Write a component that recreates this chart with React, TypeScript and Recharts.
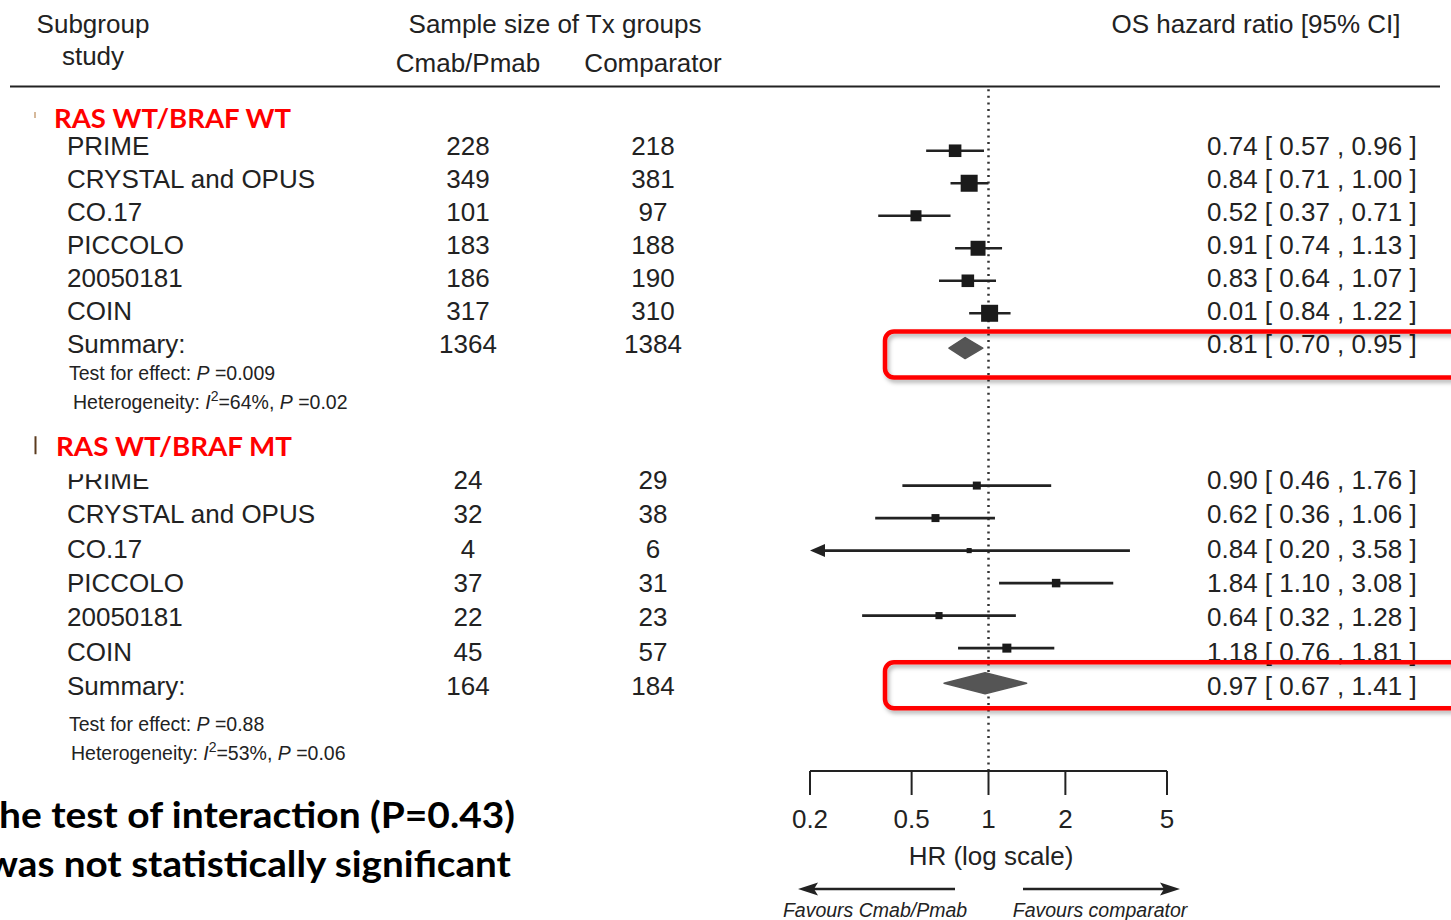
import React from 'react';
import { ScatterChart, Scatter, XAxis, YAxis, ReferenceLine, Customized } from 'recharts';

// ---------------- data ----------------
const studies = ['PRIME', 'CRYSTAL and OPUS', 'CO.17', 'PICCOLO', '20050181', 'COIN'];
const groupNames = ['RAS WT/BRAF WT', 'RAS WT/BRAF MT'];

const wtCmab = [228, 349, 101, 183, 186, 317];
const wtComp = [218, 381, 97, 188, 190, 310];
const wtHR = [0.74, 0.84, 0.52, 0.91, 0.83, 1.01];
const wtPrinted = ['0.74', '0.84', '0.52', '0.91', '0.83', '0.01'];
const wtLo = [0.57, 0.71, 0.37, 0.74, 0.64, 0.84];
const wtHi = [0.96, 1.0, 0.71, 1.13, 1.07, 1.22];
const wtWeight = [0.74, 1.0, 0.65, 0.88, 0.74, 1.0];

const mtCmab = [24, 32, 4, 37, 22, 45];
const mtComp = [29, 38, 6, 31, 23, 57];
const mtHR = [0.9, 0.62, 0.84, 1.84, 0.64, 1.18];
const mtPrinted = ['0.90', '0.62', '0.84', '1.84', '0.64', '1.18'];
const mtLo = [0.46, 0.36, 0.2, 1.1, 0.32, 0.76];
const mtHi = [1.76, 1.06, 3.58, 3.08, 1.28, 1.81];
const mtWeight = [0.47, 0.47, 0.3, 0.5, 0.42, 0.53];

const sumCmab = [1364, 164];
const sumComp = [1384, 184];
const sumHR = [0.81, 0.97];
const sumLo = [0.7, 0.67];
const sumHi = [0.95, 1.41];
const testP = ['0.009', '0.88'];
const hetI2 = ['64', '53'];
const hetP = ['0.02', '0.06'];

const xTicks = [0.2, 0.5, 1, 2, 5];
const xDomain = [0.2, 5];

// ---------------- layout (row units) ----------------
const FONT = '"Liberation Sans", Arial, Helvetica, sans-serif';
const BOLD = 'Lato, "Open Sans", sans-serif';
const INK = '#222';
const FS = 26;
const SMALL = 19.5;
const BOX_MAX = 17;

const markRowStart = [0, 10.3];
const sumRow = [6.07, 16.38];
const textRowStart = [-0.14, 10.13];
const textRowStep = [1.015, 1.055];
const headerRow = [-0.975, 9.09];
const testRow = [6.84, 17.64];
const hetRow = [7.73, 18.53];
const boxRow = [6.27, 16.44];

const groups = [
  { cmab: wtCmab, comp: wtComp, hr: wtHR, printed: wtPrinted, lo: wtLo, hi: wtHi, w: wtWeight },
  { cmab: mtCmab, comp: mtComp, hr: mtHR, printed: mtPrinted, lo: mtLo, hi: mtHi, w: mtWeight },
];

const f2 = (v: number) => v.toFixed(2);
const ciText = (est: string, lo: number, hi: number) => `${est} [ ${f2(lo)} , ${f2(hi)} ]`;

// study CI series
type Pt = { x: number; y: number; role: string; w?: number };
const studySeries: { key: string; data: Pt[]; trunc: boolean }[] = [];
groups.forEach((g, gi) => {
  studies.forEach((_, i) => {
    const y = markRowStart[gi] + i;
    studySeries.push({
      key: `s${gi}-${i}`,
      trunc: g.lo[i] <= xDomain[0],
      data: [
        { x: g.lo[i], y, role: 'lo' },
        { x: g.hr[i], y, role: 'est', w: g.w[i] },
        { x: g.hi[i], y, role: 'hi' },
      ],
    });
  });
});

const summarySeries = [0, 1].map((gi) => ({
  key: `sum${gi}`,
  data: [
    { x: sumLo[gi], y: sumRow[gi], role: 'lo' },
    { x: sumHR[gi], y: sumRow[gi], role: 'est' },
    { x: sumHi[gi], y: sumRow[gi], role: 'hi' },
  ],
}));

// table text rows
const textRows: any[] = [];
groups.forEach((g, gi) => {
  studies.forEach((name, i) => {
    textRows.push({
      x: 1,
      y: textRowStart[gi] + textRowStep[gi] * i,
      name,
      n1: g.cmab[i],
      n2: g.comp[i],
      ci: ciText(g.printed[i], g.lo[i], g.hi[i]),
    });
  });
  textRows.push({
    x: 1,
    y: textRowStart[gi] + textRowStep[gi] * 6,
    name: 'Summary:',
    n1: sumCmab[gi],
    n2: sumComp[gi],
    ci: ciText(f2(sumHR[gi]), sumLo[gi], sumHi[gi]),
  });
});

// annotations
const annotations: any[] = [];
[0, 1].forEach((gi) => {
  annotations.push({ x: 1, y: headerRow[gi], kind: 'header', gi });
  annotations.push({ x: 1, y: testRow[gi], kind: 'test', gi });
  annotations.push({ x: 1, y: hetRow[gi], kind: 'het', gi });
  annotations.push({ x: 1, y: boxRow[gi], kind: 'box', gi });
});

// ---------------- shapes ----------------
const Empty = () => <g />;

const squareShape = (props: any) => {
  const { cx, cy, payload } = props;
  if (!payload || payload.role !== 'est') return <g />;
  const s = (payload.w || 0) * BOX_MAX;
  return <rect x={cx - s / 2} y={cy - s / 2} width={s} height={s} fill="#1a1a1a" />;
};

const ciLine = (trunc: boolean) => (props: any) => {
  const pts = props.points || [];
  if (pts.length < 2) return <g />;
  const a = pts[0];
  const b = pts[pts.length - 1];
  return (
    <g>
      <line x1={trunc ? a.x + 8 : a.x} y1={a.y} x2={b.x} y2={b.y} stroke={INK} strokeWidth={2.6} />
      {trunc && <path d={`M${a.x},${a.y} l15,-6.5 l0,13 z`} fill={INK} />}
    </g>
  );
};

const diamondLine = (props: any) => {
  const pts = props.points || [];
  if (pts.length < 3) return <g />;
  const [l, m, r] = pts;
  const h = 10.5;
  return (
    <path
      d={`M${l.x},${l.y} L${m.x},${m.y - h} L${r.x},${r.y} L${m.x},${m.y + h} Z`}
      fill="#555"
      stroke="#555"
      strokeWidth={1.5}
      strokeLinejoin="round"
    />
  );
};

const textShape = (props: any) => {
  const { cy, payload: p } = props;
  return (
    <g fontFamily={FONT} fontSize={FS} fill={INK}>
      <text x={67} y={cy} dy="0.35em">{p.name}</text>
      <text x={468} y={cy} dy="0.35em" textAnchor="middle">{p.n1}</text>
      <text x={653} y={cy} dy="0.35em" textAnchor="middle">{p.n2}</text>
      <text x={1207} y={cy} dy="0.35em">{p.ci}</text>
    </g>
  );
};

const annShape = (props: any) => {
  const { cy, payload: p } = props;
  const gi = p.gi;
  if (p.kind === 'header') {
    return (
      <g>
        {gi === 1 && <rect x={28} y={cy - 26} width={280} height={54} fill="#fff" />}
        {gi === 0 ? (
          <line x1={35} y1={cy - 7} x2={35} y2={cy - 1} stroke="#c9a27a" strokeWidth={1.5} />
        ) : (
          <line x1={35.5} y1={cy - 10} x2={35.5} y2={cy + 8} stroke="#5b3b1e" strokeWidth={2} />
        )}
        <text
          x={gi === 0 ? 54 : 56}
          y={cy}
          dy="0.36em"
          fontFamily={BOLD}
          fontWeight={700}
          fontSize={26}
          fill="#ff0000"
          textLength={gi === 0 ? 237 : 236}
          lengthAdjust="spacingAndGlyphs"
        >
          {groupNames[gi]}
        </text>
      </g>
    );
  }
  if (p.kind === 'test') {
    return (
      <text x={69} y={cy} dy="0.35em" fontFamily={FONT} fontSize={SMALL} fill={INK}>
        Test for effect: <tspan fontStyle="italic">P</tspan> =<tspan>{testP[gi]}</tspan>
      </text>
    );
  }
  if (p.kind === 'het') {
    return (
      <text x={gi === 0 ? 73 : 71} y={cy} dy="0.35em" fontFamily={FONT} fontSize={SMALL} fill={INK}>
        Heterogeneity: <tspan fontStyle="italic">I</tspan>
        <tspan dy={-8} fontSize={14}>2</tspan>
        <tspan dy={8}>={hetI2[gi]}%, </tspan>
        <tspan fontStyle="italic">P</tspan> ={hetP[gi]}
      </text>
    );
  }
  if (p.kind === 'box') {
    return (
      <g>
        <defs>
          <filter id={`shadow${gi}`} x="-10%" y="-50%" width="120%" height="200%">
            <feDropShadow dx={2} dy={3} stdDeviation={2} floodColor="#000" floodOpacity={0.3} />
          </filter>
        </defs>
        <rect
          x={885}
          y={cy - 23}
          width={640}
          height={46}
          rx={9}
          ry={9}
          fill="none"
          stroke="#ff0000"
          strokeWidth={4.5}
          filter={`url(#shadow${gi})`}
        />
      </g>
    );
  }
  return <g />;
};

// ---------------- overlay (header & footer text) ----------------
const Overlay = () => (
  <g fontFamily={FONT} fill={INK}>
    <g fontSize={FS}>
      <text x={93} y={33} textAnchor="middle">Subgroup</text>
      <text x={93} y={65} textAnchor="middle">study</text>
      <text x={555} y={33} textAnchor="middle">Sample size of Tx groups</text>
      <text x={468} y={72} textAnchor="middle">Cmab/Pmab</text>
      <text x={653} y={72} textAnchor="middle">Comparator</text>
      <text x={1256} y={33} textAnchor="middle">OS hazard ratio [95% CI]</text>
      <text x={991} y={865} textAnchor="middle">HR (log scale)</text>
    </g>
    <line x1={10} y1={86.5} x2={1440} y2={86.5} stroke={INK} strokeWidth={2.2} />
    <line x1={812} y1={889} x2={955} y2={889} stroke={INK} strokeWidth={2.5} />
    <path d="M798,889 l20,-6.5 l-4,6.5 l4,6.5 z" fill={INK} />
    <line x1={1023} y1={889} x2={1166} y2={889} stroke={INK} strokeWidth={2.5} />
    <path d="M1180,889 l-20,-6.5 l4,6.5 l-4,6.5 z" fill={INK} />
    <g fontSize={19.5} fontStyle="italic">
      <text x={875} y={917} textAnchor="middle">Favours Cmab/Pmab</text>
      <text x={1100} y={917} textAnchor="middle">Favours comparator</text>
    </g>
    <g fontFamily={BOLD} fontWeight={700} fontSize={37} fill="#000">
      <text x={-24} y={828} textLength={539} lengthAdjust="spacingAndGlyphs">The test of interaction (P=0.43)</text>
      <text x={-13} y={877} textLength={524} lengthAdjust="spacingAndGlyphs">was not statistically significant</text>
    </g>
  </g>
);

export default function App() {
  return (
    <div style={{ position: 'absolute', left: 0, top: 0, width: 1451, height: 920, background: '#fff', fontFamily: FONT }}>
      <ScatterChart width={1451} height={920} margin={{ top: 88, right: 284, bottom: 89, left: 810 }}>
        <XAxis
          dataKey="x"
          type="number"
          scale="log"
          domain={xDomain}
          ticks={xTicks}
          interval={0}
          tickFormatter={(v: number) => String(v)}
          height={60}
          tickSize={24}
          tickMargin={15}
          axisLine={{ stroke: INK, strokeWidth: 2 }}
          tickLine={{ stroke: INK, strokeWidth: 2 }}
          tick={{ fill: INK, fontSize: FS, fontFamily: FONT }}
        />
        <YAxis dataKey="y" type="number" domain={[-1.93, 19.08]} reversed hide />
        <ReferenceLine x={1} stroke="#333" strokeWidth={2.5} strokeDasharray="2 4.6" />
        {studySeries.map((s) => (
          <Scatter
            key={s.key}
            data={s.data}
            isAnimationActive={false}
            line={ciLine(s.trunc)}
            shape={squareShape}
          />
        ))}
        {summarySeries.map((s) => (
          <Scatter key={s.key} data={s.data} isAnimationActive={false} line={diamondLine} shape={Empty} />
        ))}
        <Scatter data={textRows} isAnimationActive={false} shape={textShape} />
        <Scatter data={annotations} isAnimationActive={false} shape={annShape} />
        <Customized component={<Overlay />} />
      </ScatterChart>
    </div>
  );
}
